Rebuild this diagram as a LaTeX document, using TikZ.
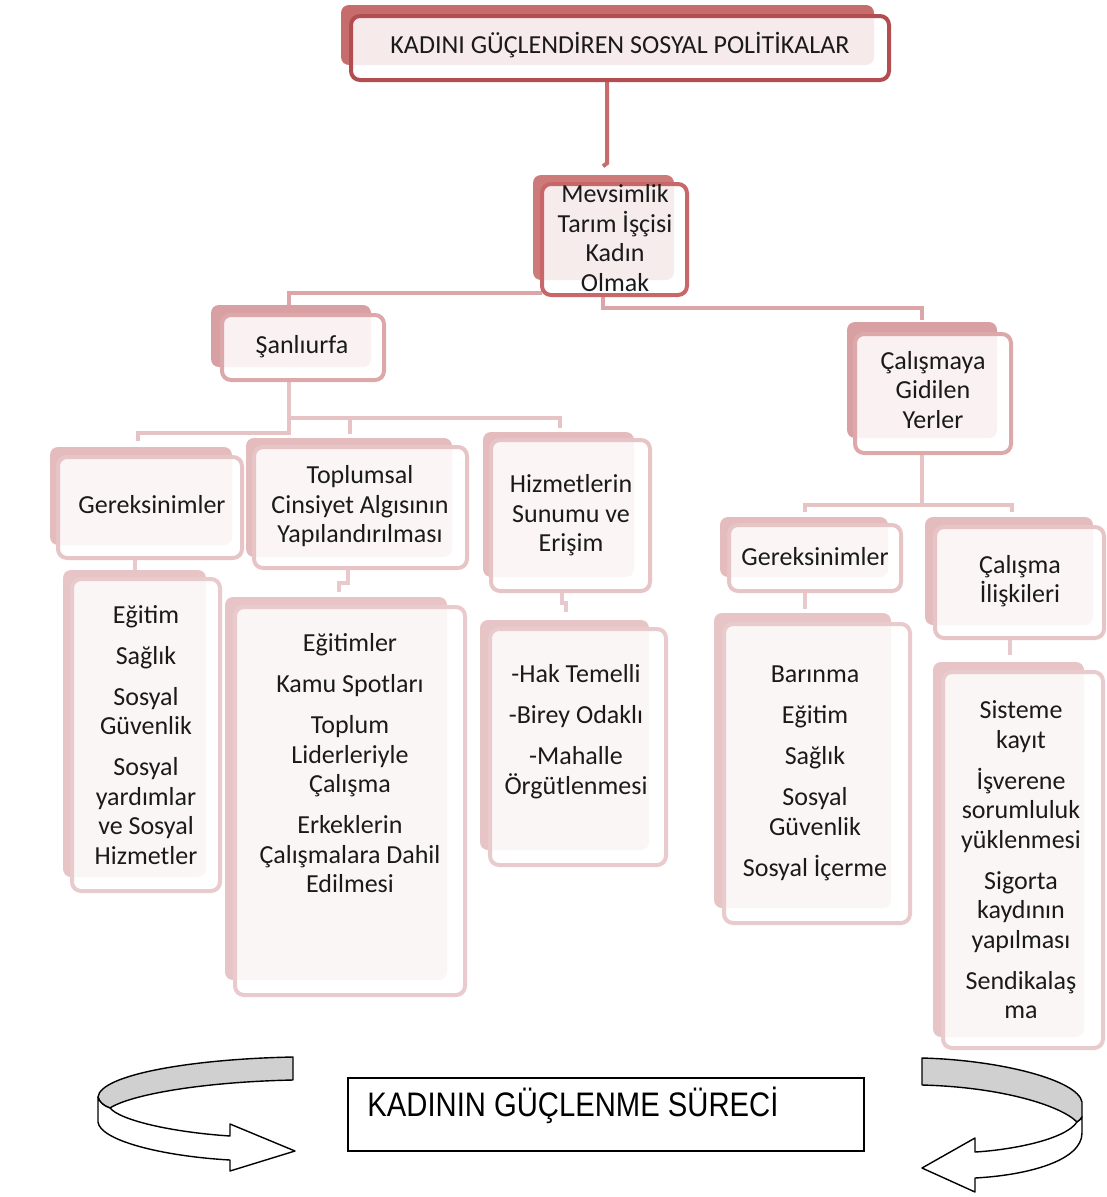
\documentclass[tikz,border=0pt]{standalone}
\usepackage{fontspec}
\setmainfont{Carlito}
\newfontfamily\arialf{Liberation Sans}
\usetikzlibrary{fit,calc}
\definecolor{shA}{HTML}{C66C6C}\definecolor{brA}{HTML}{B34E50}
\definecolor{shB}{HTML}{CD7A7B}\definecolor{brB}{HTML}{C96768}
\definecolor{shC}{HTML}{D9A0A3}\definecolor{brC}{HTML}{DCA8AA}
\definecolor{shD}{HTML}{E4BCBE}\definecolor{brD}{HTML}{E7C5C7}
\definecolor{shE}{HTML}{E7C4C6}\definecolor{brE}{HTML}{E9CBCD}
\definecolor{lnA}{HTML}{C96A6B}\definecolor{lnB}{HTML}{DCA5A7}
\definecolor{lnC}{HTML}{E6C3C5}\definecolor{lnD}{HTML}{E8CACC}
\definecolor{txtc}{HTML}{1A1A1A}
\definecolor{bandgray}{HTML}{D0D0D0}
\begin{document}
\begin{tikzpicture}[x=1pt,y=-1pt,
  shad/.style={fill=#1, rounded corners=8pt},
  bx/.style={draw=#1, line width=4pt, rounded corners=9pt, fill=white, fill opacity=0.86, inner sep=0pt},
  txt/.style={font=\fontsize{26}{29.5}\selectfont, align=center, text=txtc, inner sep=0pt},
  conn/.style={draw=#1, line width=4.5pt},
  arrowpart/.style={draw=black, line width=1.4pt, line join=round},
]
\useasboundingbox (0,0) rectangle (1107,1197);

% ---------- connectors ----------
\begin{scope}
\node[inner sep=0, fit={(351,16) (889,80)}] (top) {};
\node[inner sep=0, fit={(542,184) (687,295)}] (mev) {};
\node[inner sep=0, fit={(222,315) (384,380)}] (san) {};
\node[inner sep=0, fit={(855,334) (1011,453)}] (cal) {};
\node[inner sep=0, fit={(58,457) (242,558)}] (gerL) {};
\node[inner sep=0, fit={(254,447) (467,568)}] (toplum) {};
\node[inner sep=0, fit={(491,440) (650,591)}] (hiz) {};
\node[inner sep=0, fit={(729,525) (901,591)}] (gerR) {};
\node[inner sep=0, fit={(935,527) (1104,638)}] (cali) {};
\node[inner sep=0, fit={(72,579) (220,891)}] (egt) {};
\node[inner sep=0, fit={(235,607) (465,995)}] (egtm) {};
\node[inner sep=0, fit={(490,629) (666,865)}] (hak) {};
\node[inner sep=0, fit={(724,624) (910,923)}] (bar) {};
\node[inner sep=0, fit={(943,672) (1103,1048)}] (sis) {};
\end{scope}

\draw[conn=lnA, line width=4pt] ($(top.south)+(-13,0)$) -- ++(0,83) -- ++(-4,3);
\draw[conn=lnB, line width=4pt] ($(mev.south west)+(0,-2)$) -| ($(san.north west)+(67,-10)$);
\draw[conn=lnB, line width=4pt] ($(mev.south)+(-11.5,0)$) -- ++(0,13) -| ($(cal.north)+(-11,-14)$);

\draw[conn=lnC] ($(san.south)+(-14,0)$) -- ++(0,53) -| ($(gerL.north)+(-12,-16)$);
\draw[conn=lnC] ($(san.south)+(-14,38)$) -| ($(hiz.north)+(-10.5,-12)$);
\draw[conn=lnC] ($(san.south)+(-14,38)$) -| ($(toplum.north)+(-10.5,-13)$);

\draw[conn=lnC] ($(cal.south)+(-11,0)$) -- ++(0,52) coordinate (cj);
\draw[conn=lnC] (cj) -| ($(gerR.north)+(-10,-13)$);
\draw[conn=lnC] (cj) -| ($(cali.north)+(-7.5,-15)$);

\draw[conn=lnD] ($(gerL.south)+(-15,0)$) -- ++(0,13);
\draw[conn=lnD] ($(toplum.south)+(-12.5,0)$) -- ++(0,15) -- ++(-9,0) -- ++(0,9);
\draw[conn=lnD] ($(hiz.south)+(-8.5,0)$) -- ++(0,12) -- ++(4,0) -- ++(0,9);
\draw[conn=lnD] ($(gerR.south)+(-10,0)$) -- ++(0,18);
\draw[conn=lnD] ($(cali.south)+(-9.5,0)$) -- ++(0,17);

% ---------- shadows ----------
\fill[shad=shA] (341,5) rectangle (874,65);
\fill[shad=shB] (533,175) rectangle (674,280);
\fill[shad=shC] (211,305) rectangle (371,367);
\fill[shad=shC] (847,322) rectangle (997,438);
\fill[shad=shD] (50,447) rectangle (232,545);
\fill[shad=shD] (246,438) rectangle (452,557);
\fill[shad=shD] (483,432) rectangle (634,577);
\fill[shad=shD] (720,517) rectangle (888,577);
\fill[shad=shD] (925,517) rectangle (1093,625);
\fill[shad=shE] (63,570) rectangle (206,877);
\fill[shad=shE] (225,597) rectangle (447,980);
\fill[shad=shE] (480,620) rectangle (649,850);
\fill[shad=shE] (714,613) rectangle (891,908);
\fill[shad=shE] (933,662) rectangle (1084,1037);

% ---------- boxes ----------
\node[bx=brA, fit={(351,16) (889,80)}] (topB) {};
\node[bx=brB, fit={(542,184) (687,295)}] (mevB) {};
\node[bx=brC, fit={(222,315) (384,380)}] (sanB) {};
\node[bx=brC, fit={(855,334) (1011,453)}] (calB) {};
\node[bx=brD, fit={(58,457) (242,558)}] (gerLB) {};
\node[bx=brD, fit={(254,447) (467,568)}] (toplumB) {};
\node[bx=brD, fit={(491,440) (650,591)}] (hizB) {};
\node[bx=brD, fit={(729,525) (901,591)}] (gerRB) {};
\node[bx=brD, fit={(935,527) (1104,638)}] (caliB) {};
\node[bx=brE, fit={(72,579) (220,891)}] (egtB) {};
\node[bx=brE, fit={(235,607) (465,995)}] (egtmB) {};
\node[bx=brE, fit={(490,629) (666,865)}] (hakB) {};
\node[bx=brE, fit={(724,624) (910,923)}] (barB) {};
\node[bx=brE, fit={(943,672) (1103,1048)}] (sisB) {};

% ---------- texts ----------
\node[txt] (topT) at (620,45) {KADINI GÜÇLENDİREN SOSYAL POLİTİKALAR};
\node[txt] (mevT) at (615,238) {Mevsimlik\\Tarım İşçisi\\Kadın\\Olmak};
\node[txt] (sanT) at (302,347) {Şanlıurfa};
\node[txt] (calT) at (933,390) {Çalışmaya\\Gidilen\\Yerler};
\node[txt] (gerLT) at (152,505) {Gereksinimler};
\node[txt] (toplumT) at (360,506.5) {Toplumsal\\Cinsiyet Algısının\\Yapılandırılması};
\node[txt] (hizT) at (571,515.5) {Hizmetlerin\\Sunumu ve\\Erişim};
\node[txt] (gerRT) at (815,557) {Gereksinimler};
\node[txt] (caliT) at (1020,581) {Çalışma\\İlişkileri};
\node[txt] (egtT) at (146,735) {Eğitim\\[11.5pt]Sağlık\\[11.5pt]Sosyal\\Güvenlik\\[11.5pt]Sosyal\\yardımlar\\ve Sosyal\\Hizmetler};
\node[txt] (egtmT) at (350,763.5) {Eğitimler\\[11.5pt]Kamu Spotları\\[11.5pt]Toplum\\Liderleriyle\\Çalışma\\[11.5pt]Erkeklerin\\Çalışmalara Dahil\\Edilmesi};
\node[txt] (hakT) at (576,731.5) {-Hak Temelli\\[11.5pt]-Birey Odaklı\\[11.5pt]-Mahalle\\Örgütlenmesi};
\node[txt] (barT) at (815,773.5) {Barınma\\[11.5pt]Eğitim\\[11.5pt]Sağlık\\[11.5pt]Sosyal\\Güvenlik\\[11.5pt]Sosyal İçerme};
\node[txt] (sisT) at (1021,860) {Sisteme\\kayıt\\[11.5pt]İşverene\\sorumluluk\\yüklenmesi\\[11.5pt]Sigorta\\kaydının\\yapılması\\[11.5pt]Sendikalaş\\ma};

% ---------- bottom process ----------
\node[draw=black, line width=1.5pt, inner sep=0, fit={(348,1078) (864,1151)}] (proc) {};
\node[anchor=base west, inner sep=0, xscale=0.86, font=\arialf\fontsize{34}{40}\selectfont, text=black]
  (procT) at ($(proc.north west)+(20,39)$) {KADININ GÜÇLENME SÜRECİ};

% left ribbon arrow
\filldraw[arrowpart, fill=bandgray] (293,1057) .. controls (190,1059) and (100,1075) .. (98,1097)
  .. controls (99,1102) and (104,1106) .. (110,1108)
  .. controls (130,1095) and (200,1082) .. (293,1080) -- cycle;
\filldraw[arrowpart, fill=white] (98,1097) -- (98,1122)
  .. controls (100,1140) and (160,1156) .. (230,1160)
  -- (230,1171) -- (295,1151) -- (230,1124) -- (230,1136)
  .. controls (170,1132) and (120,1120) .. (110,1108)
  .. controls (104,1106) and (99,1102) .. (98,1097) -- cycle;

% right ribbon arrow
\filldraw[arrowpart, fill=bandgray] (922,1058) .. controls (1000,1060) and (1078,1080) .. (1082,1102)
  -- (1082,1117) .. controls (1081,1119) and (1079,1121) .. (1077,1122)
  .. controls (1060,1105) and (1000,1087) .. (922,1085) -- cycle;
\filldraw[arrowpart, fill=white] (1077,1122)
  .. controls (1065,1140) and (1010,1150) .. (975,1152)
  -- (975,1138) -- (922,1168) -- (975,1192) -- (975,1178)
  .. controls (1030,1175) and (1082,1160) .. (1082,1133)
  -- (1082,1117) .. controls (1081,1119) and (1079,1121) .. (1077,1122) -- cycle;
\end{tikzpicture}
\end{document}
